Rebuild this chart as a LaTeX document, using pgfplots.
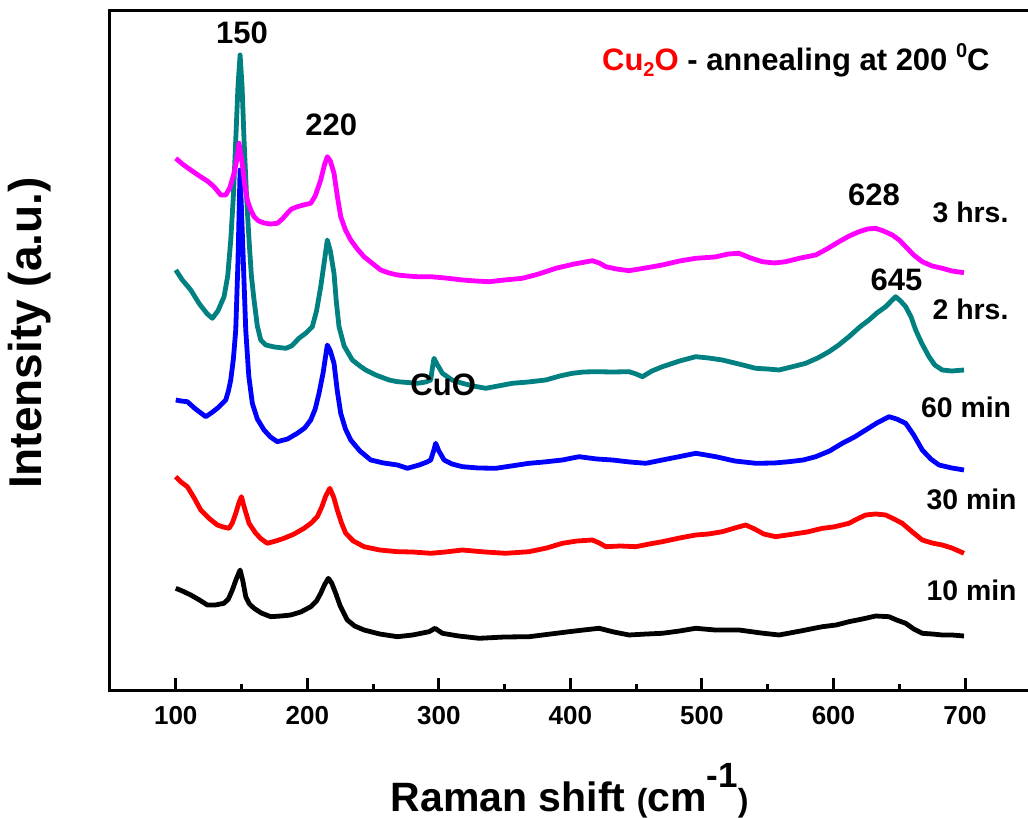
\documentclass[border=0pt]{standalone}
\usepackage{pgfplots}
\pgfplotsset{compat=1.18}
\usepackage{fontspec}
\setmainfont{Liberation Sans}
\definecolor{cmag}{RGB}{255,0,255}
\definecolor{cteal}{RGB}{0,128,128}
\definecolor{cblue}{RGB}{0,0,255}
\definecolor{cred}{RGB}{255,0,0}
\begin{document}
\begin{tikzpicture}
\begin{axis}[
  scale only axis,
  width=460.4pt, height=340pt,
  xmin=50, xmax=750, ymin=0, ymax=680,
  clip=false,
  axis line style={line width=1.5pt},
  xtick={100,200,...,700},
  minor x tick num=1,
  ytick=\empty,
  xtick pos=bottom,
  tick align=inside,
  major tick length=6.5pt,
  minor tick length=3.5pt,
  every tick/.style={line width=1.5pt, black},
  /pgf/number format/assume math mode=true,
  xticklabel style={font=\fontsize{13}{13}\selectfont\bfseries, yshift=-4pt},
  every axis plot/.append style={line width=2.4pt, line join=round, mark=none},
]
% 10 min
\addplot[black] coordinates {
(100,102.7)(105,100)(111.4,96)(118,91)(124,86)(130,86)(136.7,87.7)(140,92)(143,101)(146,112)(148.9,121)(151,110)(153.2,94.3)(156,87)(159.5,82.7)(165,78)(172.2,74.3)(180,75)(187.4,76)(195,79)(202.6,84.3)(207,90)(210.2,97.7)(213,106)(216,112.7)(218.5,108)(221.6,97.7)(225,85)(230.4,71)(236,65)(243.1,61)(255,57)(268.5,54.3)(280,56)(292.6,59.3)(297.1,62.7)(302.7,57.7)(315,55)(330.6,52.7)(350,54)(368.6,54.3)(385,57)(399,59.3)(410,61)(421.8,62.7)(433,59)(444.6,56)(458,57)(469.9,57.7)(483,60)(495.3,62.7)(510,61)(528.2,61)(545,58)(558.6,56)(575,60)(591.5,64.3)(602,66)(611.8,69.3)(622,72)(632.1,75)(642.2,74.3)(648,71)(654.9,67.7)(661,62)(667.5,57.7)(675,57)(682.7,56)(690,56)(699.2,55)};
% 30 min
\addplot[cred] coordinates {
(100,214.3)(104,209)(108.8,204.3)(114,193)(119,181)(125,173)(131.6,166)(136,164)(140.5,162.7)(143,168)(145.6,177.7)(148,188)(149.9,194.3)(152,184)(155.7,167.7)(160.8,157.7)(165,152)(169.6,147.7)(176,150)(182.3,152.7)(190,157)(197.5,162.7)(203,168)(207.6,174.3)(211,184)(214,195)(217.1,202.7)(220,194)(222.8,181)(226,168)(229.2,157.7)(235,150)(243.1,144.3)(255,141)(268.5,139.3)(280,139)(293.8,137.7)(305,139)(317.9,141)(335,139)(350.9,137.7)(368.6,139.3)(382,143)(393.9,147.7)(405,150)(416.7,151)(422,148)(426.9,144.3)(438,145)(449.7,144.3)(460,147)(469.9,149.3)(483,153)(495.3,156)(505,157)(515.5,159.3)(525,163)(533.3,166)(540,162)(547,157)(556.1,154.3)(570,157)(580,159)(591.5,162.7)(600,164)(611.8,167.7)(618,172)(624.5,176)(632,177)(639.7,176)(646,172)(652.3,167.7)(660,159)(667.5,151)(675,148)(682.7,146)(690,143)(699.2,137.7)};
% 60 min
\addplot[cblue] coordinates {
(100,291)(104,290)(108.8,289.3)(115,282)(122.8,274.3)(127,278)(131.6,282.7)(135,287)(138,291)(140,300)(141.8,311)(143.8,332)(145.6,361)(147.3,430)(148.9,521)(150.8,450)(153.2,361)(155.5,315)(158.2,287.7)(162,272)(167.1,261)(172,254)(177.2,249.3)(185,252)(192.4,257.7)(198,263)(202.6,271)(206,282)(208.9,297.7)(212,318)(215.2,346)(217.5,340)(220.3,327.7)(222.8,300)(225.4,277.7)(229,262)(233,251)(240,240)(248.2,231)(258,228)(268.5,226)(276.1,222.7)(285,226)(291,229)(293.8,231)(296,240)(297.6,247.7)(300,240)(304,231)(310,227)(317.9,224.3)(330,223)(343.3,222.7)(355,225)(368.6,227.7)(380,229)(393.9,231)(406.6,234.3)(420,232)(431.9,231)(445,229)(457.3,227.7)(470,231)(482.6,234.3)(495.3,237.7)(503,236)(510.5,234.3)(525,230)(540.9,227.7)(555,228)(566.2,229.3)(577,231)(586.5,234.3)(597,240)(606.7,247.7)(616,254)(624.5,261)(633,268)(642.2,274.3)(648,272)(654.9,267.7)(661,256)(667.5,241)(674,232)(680.2,226)(690,223)(699.2,221)};
% 2 hrs
\addplot[cteal] coordinates {
(100,421)(105,411)(111.4,401)(118,387)(124,377)(127.8,372.7)(132,380)(136.7,394.3)(139.5,415)(141.8,451)(143.8,495)(145.6,551)(147.3,605)(148.9,636)(150.4,605)(151.9,551)(153.8,495)(155.7,451)(157.5,415)(159.5,391)(162,365)(164.6,351)(168.4,346)(175,344)(183.6,342.7)(188,345)(193.7,352.7)(199,358)(203.8,364.3)(207,380)(210.2,404.3)(213,430)(215.2,451)(217.5,440)(220.3,417.7)(222,390)(224.1,364.3)(228,345)(234.2,331)(240,325)(244.4,321)(252,316)(262.1,311)(268.5,309.3)(283.7,307.7)(290,309)(293.8,311)(295,322)(296.3,332.7)(299,326)(302.7,317.7)(310,311)(317.9,307.7)(326,305)(335.7,302.7)(345,305)(355.9,307.7)(368,309)(381.3,311)(392,315)(401.5,317.7)(410,319)(419.3,319.3)(432,319)(444.6,319.3)(450,317)(454.7,314.3)(462,320)(469.9,324.3)(483,330)(495.3,334.3)(505,333)(515.5,331)(528,327)(540.9,322.7)(550,322)(558.6,321)(568,324)(578.9,327.7)(588,333)(596.6,339.3)(604,346)(611.8,354.3)(620,364)(627,371)(633,378)(639.7,384.3)(644,390)(647.3,394.3)(651,390)(654.9,384.3)(659,374)(662.5,361)(667,348)(672.6,334.3)(677,326)(682.7,321)(690,320)(699.2,321)};
% 3 hrs
\addplot[cmag] coordinates {
(100,532.7)(105,527)(111.4,521)(118,515)(124,510)(129.1,504.3)(134.2,496)(138,496)(141,503)(144.3,517.7)(146.5,532)(148.1,547.7)(150.5,528)(152.5,505)(154.4,491)(157,481)(159.5,474.3)(163,470)(167.1,468)(172,467)(177.2,467.7)(181,472)(184.8,477.7)(188,482)(192.4,484.3)(197,486)(202.6,487.7)(206,495)(210.2,511)(213,526)(215.2,534.3)(217.5,530)(220.3,517.7)(222.8,495)(225.4,474.3)(229,461)(233,451)(238,442)(243.1,434.3)(249,428)(255.8,421)(262,418)(268.5,416)(276,415)(283.7,414.3)(293.8,414.3)(305,413)(318,411)(328,410)(338.2,409.3)(350,411)(363.5,412.7)(376,417)(388.9,422.7)(403,427)(416.7,430.3)(422,428)(426.9,424.3)(435,422)(444.6,420.3)(457,423)(469.9,426)(483,430)(495.3,432.7)(510,434)(520,437)(528.2,437.7)(537,433)(545.9,429.3)(555,428)(563.7,429.3)(575,433)(586.5,436)(595,442)(604.2,449.3)(612,455)(619.4,459.3)(626,462)(632.1,462.7)(638,460)(644.7,456)(650,451)(654.9,444.3)(661,436)(667.5,429.3)(675,425)(682.7,422.7)(690,420)(699.2,418.3)};
% annotations
\begin{scope}[every node/.style={inner sep=0pt, font=\fontsize{15.5}{15.5}\selectfont\bfseries}]
\node at (axis cs:150.4,658.5) {150};
\node at (axis cs:218.2,566.5) {220};
\node at (axis cs:303.3,306) {CuO};
\node at (axis cs:630.8,496) {628};
\node at (axis cs:647.9,411) {645};
\end{scope}
\begin{scope}[every node/.style={inner sep=0pt, font=\fontsize{14.2}{14.2}\selectfont\bfseries}]
\node at (axis cs:704.2,479) {3 hrs.};
\node at (axis cs:704.2,382) {2 hrs.};
\node at (axis cs:700.8,284) {60 min};
\node at (axis cs:705,192) {30 min};
\node at (axis cs:705,101) {10 min};
\end{scope}
\node[inner sep=0pt, anchor=base east, font=\fontsize{15.5}{15.5}\selectfont\bfseries] at (axis cs:719,620)
  {\textcolor{cred}{Cu\raisebox{-0.35ex}{\fontsize{10}{10}\selectfont 2}O} - annealing at 200 \raisebox{0.85ex}{\fontsize{10}{10}\selectfont 0}C};
\node[inner sep=0pt, anchor=base, font=\fontsize{20.5}{20.5}\selectfont\bfseries] at (axis cs:399.4,-120.7)
  {Raman shift {\fontsize{16}{16}\selectfont(}cm\raisebox{1.1ex}{\fontsize{17.5}{17.5}\selectfont -1}{\fontsize{16}{16}\selectfont)}};
\node[inner sep=0pt, rotate=90, anchor=center, font=\fontsize{23}{23}\selectfont\bfseries] at (axis cs:-10.8,358)
  {Intensity (a.u.)};
\end{axis}
\pgfresetboundingbox
\useasboundingbox (-55pt,-63.5pt) rectangle (459pt,345.5pt);
\end{tikzpicture}
\end{document}
